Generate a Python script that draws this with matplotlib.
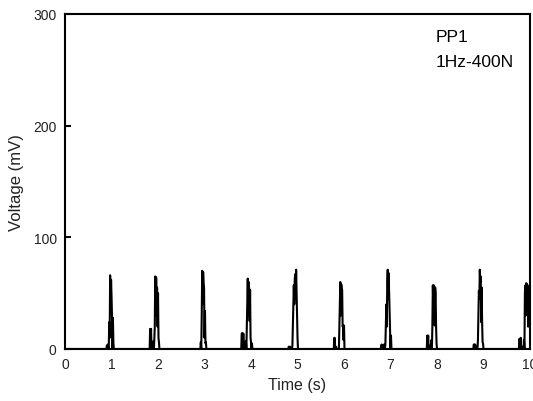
import matplotlib
matplotlib.use("Agg")
import matplotlib.pyplot as plt
import numpy as np

# Sampled voltage around each loading pulse (time in s, voltage in mV)
t1 = [0.89, 0.90, 0.91, 0.92, 0.93, 0.94, 0.95, 0.96, 0.97, 0.98, 0.99, 1.00, 1.01, 1.02, 1.03, 1.04, 1.05, 1.06]
v1 = [0, 3, 0, 4, 1, 0, 24, 10, 66, 35, 62, 48, 30, 0, 28, 6, 0, 0]

t2 = [1.81, 1.82, 1.83, 1.84, 1.85, 1.86, 1.87, 1.88, 1.89, 1.90, 1.91, 1.92, 1.93, 1.94, 1.95, 1.96, 1.97, 1.98, 1.99, 2.00, 2.01, 2.02, 2.03, 2.04]
v2 = [0, 0, 18, 0, 18, 0, 0, 0, 0, 7, 0, 8, 20, 65, 30, 64, 40, 55, 20, 50, 10, 6, 0, 0]

t3 = [2.90, 2.91, 2.92, 2.93, 2.94, 2.95, 2.96, 2.97, 2.98, 2.99, 3.00, 3.01, 3.02, 3.03, 3.04, 3.05]
v3 = [0, 0, 6, 0, 30, 70, 40, 69, 60, 55, 10, 34, 5, 6, 0, 0]

t4 = [3.78, 3.79, 3.80, 3.81, 3.82, 3.83, 3.84, 3.85, 3.86, 3.87, 3.88, 3.89, 3.90, 3.91, 3.92, 3.93, 3.94, 3.95, 3.96, 3.97, 3.98, 3.99, 4.00, 4.01, 4.02, 4.03]
v4 = [0, 0, 14, 14, 0, 14, 13, 0, 0, 0, 0, 7, 0, 22, 45, 63, 30, 60, 54, 25, 53, 10, 6, 0, 5, 0]

t5 = [4.80, 4.81, 4.82, 4.83, 4.84, 4.85, 4.86, 4.87, 4.88, 4.89, 4.90, 4.91, 4.92, 4.93, 4.94, 4.95, 4.96, 4.97, 4.98, 4.99, 5.00, 5.01, 5.02]
v5 = [0, 2, 2, 0, 2, 0, 0, 0, 0, 3, 20, 35, 57, 40, 62, 67, 45, 71, 50, 33, 10, 0, 0]

t6 = [5.78, 5.79, 5.80, 5.81, 5.82, 5.83, 5.84, 5.85, 5.86, 5.87, 5.88, 5.89, 5.90, 5.91, 5.92, 5.93, 5.94, 5.95, 5.96, 5.97, 5.98, 5.99, 6.00, 6.01, 6.02]
v6 = [0, 10, 10, 0, 0, 2, 0, 0, 0, 0, 0, 0, 21, 45, 60, 30, 58, 54, 53, 20, 21, 8, 21, 0, 0]

t7 = [6.79, 6.80, 6.81, 6.82, 6.83, 6.84, 6.85, 6.86, 6.87, 6.88, 6.89, 6.90, 6.91, 6.92, 6.93, 6.94, 6.95, 6.96, 6.97, 6.98, 6.99, 7.00, 7.01, 7.02]
v7 = [0, 3, 4, 0, 3, 0, 0, 4, 0, 0, 5, 22, 40, 20, 60, 71, 45, 68, 50, 30, 13, 0, 12, 0]

t8 = [7.78, 7.79, 7.80, 7.81, 7.82, 7.83, 7.84, 7.85, 7.86, 7.87, 7.88, 7.89, 7.90, 7.91, 7.92, 7.93, 7.94, 7.95, 7.96, 7.97, 7.98, 7.99, 8.00, 8.01]
v8 = [0, 12, 0, 12, 0, 3, 0, 0, 0, 0, 8, 0, 20, 57, 40, 57, 56, 21, 55, 50, 20, 5, 0, 0]

t9 = [8.78, 8.79, 8.80, 8.81, 8.82, 8.83, 8.84, 8.85, 8.86, 8.87, 8.88, 8.89, 8.90, 8.91, 8.92, 8.93, 8.94, 8.95, 8.96, 8.97, 8.98, 8.99, 9.00, 9.01]
v9 = [0, 4, 4, 0, 4, 0, 0, 2, 0, 0, 8, 30, 52, 45, 71, 60, 65, 24, 55, 24, 6, 5, 0, 0]

t10 = [9.76, 9.77, 9.78, 9.79, 9.80, 9.81, 9.82, 9.83, 9.84, 9.85, 9.86, 9.87, 9.88, 9.89, 9.90, 9.91, 9.92, 9.93, 9.94, 9.95, 9.96, 9.97, 9.98, 9.99, 10.00]
v10 = [0, 9, 9, 0, 10, 0, 0, 0, 2, 0, 0, 8, 0, 50, 57, 30, 59, 58, 40, 57, 20, 50, 35, 55, 30]

time = np.concatenate([[0.0], t1, t2, t3, t4, t5, t6, t7, t8, t9, t10])
voltage = np.concatenate([[0.0], v1, v2, v3, v4, v5, v6, v7, v8, v9, v10])

x_ticks = np.arange(0, 11, 1)
y_ticks = [0, 100, 200, 300]

plt.rcParams["font.family"] = ["Liberation Sans", "DejaVu Sans"]

fig = plt.figure(figsize=(5.33, 4.02), dpi=100)
ax = fig.add_axes([0.122, 0.1294, 0.8724, 0.8333])

ax.plot(time, voltage, color="black", linewidth=1.5)

ax.set_xlim(0, 10)
ax.set_ylim(0, 300)
ax.set_xticks(x_ticks)
ax.set_yticks(y_ticks)
ax.tick_params(axis="x", length=0, pad=6, labelsize=10, labelcolor="#222222")
ax.tick_params(axis="y", direction="in", length=4, width=1.5, pad=6,
               labelsize=10, labelcolor="#222222")
for s in ax.spines.values():
    s.set_linewidth(1.5)

ax.set_xlabel("Time (s)", fontsize=11.5, color="#222222", va="top")
ax.xaxis.set_label_coords(0.5, -0.085)
ax.set_ylabel("Voltage (mV)", fontsize=12, color="#222222")
ax.yaxis.set_label_coords(-0.088, 0.5)

ax.text(0.796, 0.955, "PP1", transform=ax.transAxes, fontsize=12.5, va="top")
ax.text(0.796, 0.881, "1Hz-400N", transform=ax.transAxes, fontsize=12.5, va="top")

fig.savefig("out.png", dpi=100)
